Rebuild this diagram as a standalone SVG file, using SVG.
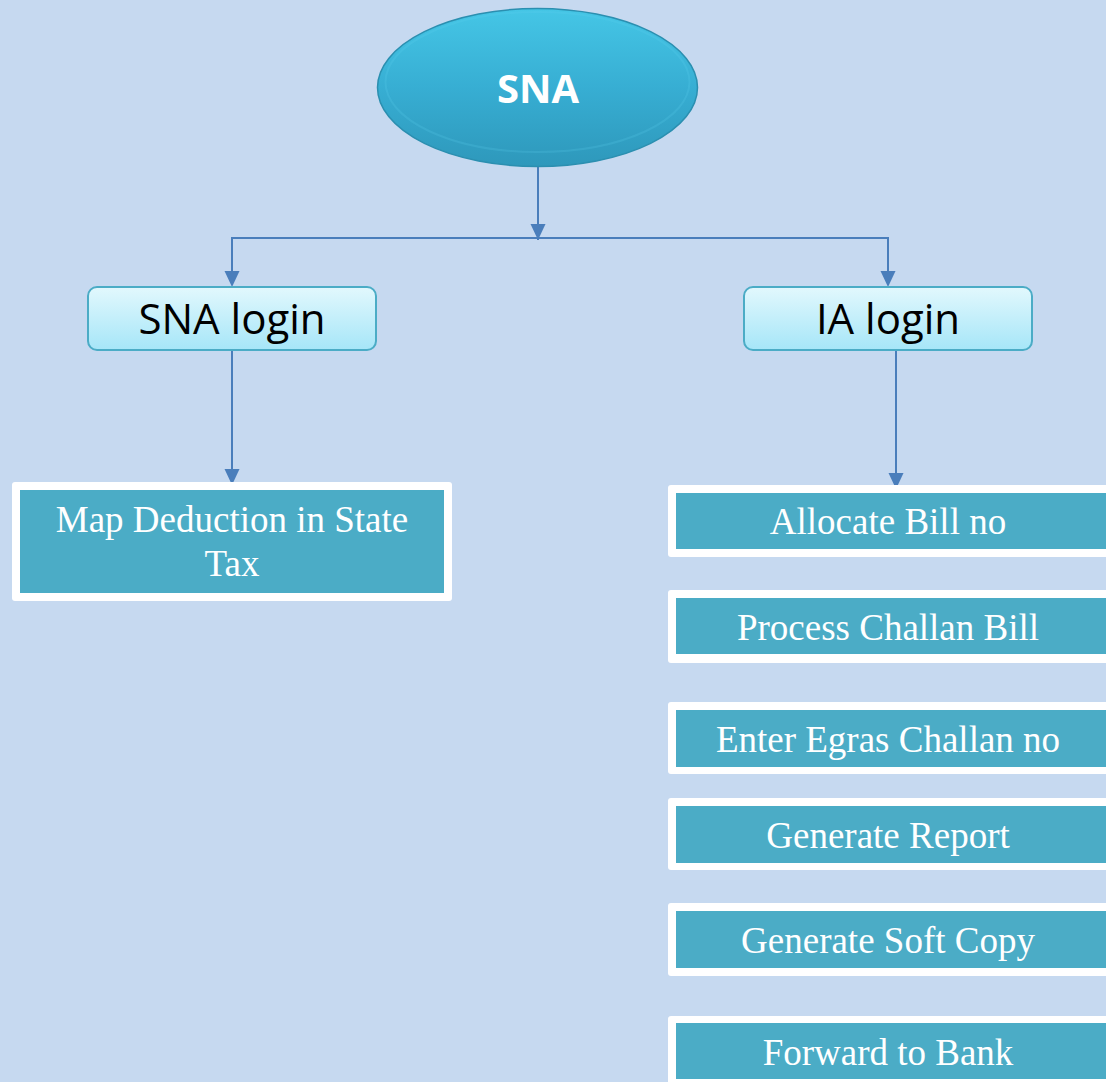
<svg xmlns="http://www.w3.org/2000/svg" width="1106" height="1082" viewBox="0 0 1106 1082">
<style>
.conn{fill:none;stroke:#4a7ebb;stroke-width:2}
.ah{fill:#4a7ebb}
.outer{fill:#ffffff}
.inner{fill:#4bacc6}
.tt{font-family:"Liberation Serif","Times New Roman",serif;font-size:37px;fill:#ffffff;text-anchor:middle}
.lg{font-family:"Open Sans","Noto Sans",sans-serif;font-size:42px;fill:#000000;text-anchor:middle}
.lbox{fill:url(#lgrad);stroke:#4bacc6;stroke-width:2}
</style>
<defs>
<linearGradient id="egrad" x1="0" y1="0" x2="0" y2="1">
<stop offset="0" stop-color="#45c6e6"/>
<stop offset="0.5" stop-color="#37aed3"/>
<stop offset="1" stop-color="#2e98bb"/>
</linearGradient>
<linearGradient id="lgrad" x1="0" y1="0" x2="0" y2="1">
<stop offset="0" stop-color="#e2f8fd"/>
<stop offset="1" stop-color="#a6e6f8"/>
</linearGradient>
<marker id="arrd" markerUnits="userSpaceOnUse" markerWidth="16" markerHeight="16" viewBox="0 0 16 16" refX="16" refY="8" orient="auto">
<path d="M0,0.5 L16,8 L0,15.5 Z" fill="#4a7ebb"/>
</marker>
</defs>
<rect x="0" y="0" width="1106" height="1082" fill="#c6d9f0"/>

<g id="connectors">
<line class="conn" x1="538" y1="167" x2="538" y2="240" marker-end="url(#arrd)"/>
<polyline class="conn" points="232,272 232,238 888,238 888,272"/>
<path class="ah" d="M224.5,271 L239.5,271 L232,287 Z"/>
<path class="ah" d="M880.5,271 L895.5,271 L888,287 Z"/>
<line class="conn" x1="232" y1="351" x2="232" y2="485" marker-end="url(#arrd)"/>
<line class="conn" x1="896" y1="351" x2="896" y2="489" marker-end="url(#arrd)"/>
</g>

<g id="sna">
<ellipse cx="537.5" cy="87.5" rx="160" ry="79" fill="url(#egrad)" stroke="#2b8fb0" stroke-width="1.5"/>
<ellipse cx="537.5" cy="82" rx="152" ry="70" fill="none" stroke="#5fd0ee" stroke-width="2" opacity="0.2"/>
<text x="538" y="103" font-family="'Open Sans','Noto Sans',sans-serif" font-size="40" font-weight="bold" fill="#ffffff" text-anchor="middle">SNA</text>
</g>

<g id="sna-login">
<rect class="lbox" x="88" y="287" width="288" height="63" rx="9"/>
<text class="lg" x="232" y="334">SNA login</text>
</g>

<g id="ia-login">
<rect class="lbox" x="744" y="287" width="288" height="63" rx="9"/>
<text class="lg" x="888" y="334">IA login</text>
</g>

<g id="map-deduction">
<rect class="outer" x="12" y="482" width="440" height="119" rx="3"/>
<rect class="inner" x="20" y="490" width="424" height="103"/>
<text class="tt" x="232" y="532">Map Deduction in State</text>
<text class="tt" x="232" y="576">Tax</text>
</g>

<g id="allocate-bill">
<rect class="outer" x="668" y="485" width="460" height="72" rx="3"/>
<rect class="inner" x="676" y="493" width="440" height="56"/>
<text class="tt" x="888" y="534">Allocate Bill no</text>
</g>

<g id="process-challan">
<rect class="outer" x="668" y="590" width="460" height="73" rx="3"/>
<rect class="inner" x="676" y="598" width="440" height="56"/>
<text class="tt" x="888" y="640">Process Challan Bill</text>
</g>

<g id="enter-egras">
<rect class="outer" x="668" y="702" width="460" height="72" rx="3"/>
<rect class="inner" x="676" y="710" width="440" height="57"/>
<text class="tt" x="888" y="752">Enter Egras Challan no</text>
</g>

<g id="generate-report">
<rect class="outer" x="668" y="798" width="460" height="72" rx="3"/>
<rect class="inner" x="676" y="806" width="440" height="57"/>
<text class="tt" x="888" y="848">Generate Report</text>
</g>

<g id="generate-soft-copy">
<rect class="outer" x="668" y="903" width="460" height="73" rx="3"/>
<rect class="inner" x="676" y="911" width="440" height="57"/>
<text class="tt" x="888" y="953">Generate Soft Copy</text>
</g>

<g id="forward-bank">
<rect class="outer" x="668" y="1016" width="460" height="80" rx="3"/>
<rect class="inner" x="676" y="1023" width="440" height="56"/>
<text class="tt" x="888" y="1065">Forward to Bank</text>
</g>
</svg>
